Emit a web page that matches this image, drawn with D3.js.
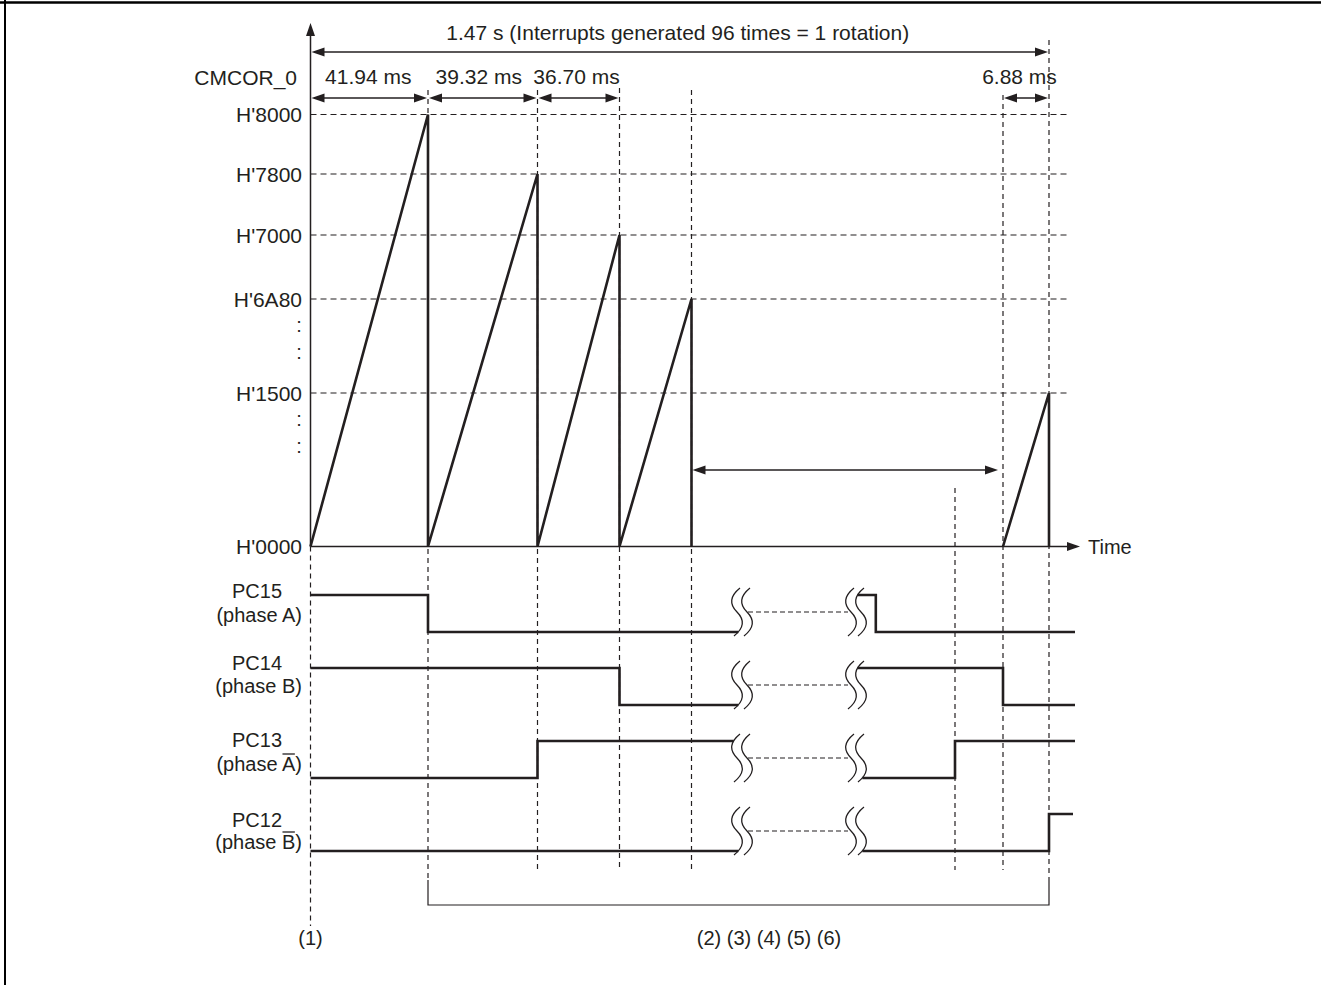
<!DOCTYPE html>
<html><head><meta charset="utf-8">
<script src="https://cdn.jsdelivr.net/npm/d3@7"></script>
<style>
body{margin:0;background:#fff}
text{font-family:"Liberation Sans",Arial,Helvetica,sans-serif;fill:#231f20}
</style>
</head><body>
<svg id="c" width="1321" height="985"></svg>
<script>
// ---------------- data ----------------
const levelLabels = ["H'0000","H'1500","H'6A80","H'7000","H'7800","H'8000"];
const levelValues = [0x0000, 0x1500, 0x6A80, 0x7000, 0x7800, 0x8000];
// interrupt / event times (ms)
const eventTimes = [0, 41.94, 81.26, 117.96, 152.04, 1456.24, 1463.12, 1470];
// compare-match ramps
const rampStart = [0, 41.94, 81.26, 117.96, 1463.12];
const rampEnd   = [41.94, 81.26, 117.96, 152.04, 1470];
const rampPeak  = [0x8000, 0x7800, 0x7000, 0x6A80, 0x1500];
// interval annotations
const intervalLabels = ["41.94 ms", "39.32 ms", "36.70 ms", "6.88 ms"];
const intervalFrom = [0, 41.94, 81.26, 1463.12];
const intervalTo   = [41.94, 81.26, 117.96, 1470];
const totalLabel = "1.47 s (Interrupts generated 96 times = 1 rotation)";
const totalFrom = 0, totalTo = 1470;
const gapFrom = 152.04, gapTo = 1463.12;
// time axis break
const breakStart = 200, breakEnd = 1400, endTime = 1474;
// output signals
const signalNames  = ["PC15", "PC14", "PC13", "PC12"];
const signalPhase  = ["A", "B", "A", "B"];
const signalBar    = [false, false, true, true];
const preSteps  = [[[0,1],[41.94,0]], [[0,1],[117.96,0]], [[0,0],[81.26,1]], [[0,0]]];
const postSteps = [[[1400,1],[1415,0]], [[1400,1],[1463.12,0]], [[1400,0],[1456.24,1]], [[1400,0],[1470,1]]];
const stepLabels = ["(1)", "(2) (3) (4) (5) (6)"];

// ---------------- layout ----------------
const ink = "#231f20";
const svg = d3.select("#c");
const xKnots = [0, 41.94, 81.26, 117.96, 152.04, breakStart, breakEnd, 1456.24, 1463.12, 1470, endTime];
const xPix   = [310.5, 428, 537.5, 619.5, 691.5, 733, 847, 955, 1003, 1049, 1075];
const x = d3.scaleLinear().domain(xKnots).range(xPix);
const y = d3.scaleLinear().domain(levelValues).range([546.5, 393, 299, 235, 174, 114.5]);
const row = d3.scaleLinear().domain([0, 3]).range([595, 814]); // high level of each signal
const amp = 37;
const FS = 21;
const nameY = [598, 670, 747, 827];
const phaseY = [622, 693, 771, 849];

// frame
svg.append("line").attr("x1",0).attr("x2",1321).attr("y1",2.5).attr("y2",2.5).attr("stroke","#000").attr("stroke-width",2.5);
svg.append("line").attr("x1",5).attr("x2",5).attr("y1",0).attr("y2",985).attr("stroke","#000").attr("stroke-width",2);

function arrowHead(g, tx, ty, dir) {
  const L = 13, W = 4.5;
  let pts;
  if (dir === "r") pts = [[tx,ty],[tx-L,ty-W],[tx-L,ty+W]];
  if (dir === "l") pts = [[tx,ty],[tx+L,ty-W],[tx+L,ty+W]];
  if (dir === "u") pts = [[tx,ty],[tx-W,ty+L],[tx+W,ty+L]];
  g.append("path").attr("d", "M" + pts.map(p => p.join(",")).join("L") + "Z").attr("fill", ink);
}
function dblArrow(g, x1, x2, yy) {
  g.append("line").attr("x1",x1+4).attr("x2",x2-4).attr("y1",yy).attr("y2",yy).attr("stroke",ink).attr("stroke-width",1.5);
  arrowHead(g, x1+1, yy, "l");
  arrowHead(g, x2-1, yy, "r");
}

const gGrid = svg.append("g");
// horizontal dashed grid lines
levelValues.slice(1).forEach(v => {
  gGrid.append("line").attr("x1", x(0)).attr("x2", 1070).attr("y1", y(v)).attr("y2", y(v))
    .attr("stroke", ink).attr("stroke-width", 1.2).attr("stroke-dasharray", "6,4");
});

// vertical dashed lines
const topArrowY = 52, subArrowY = 98, gapArrowY = 470;
const bracketY = 905;
const vDefs = eventTimes.map(t => {
  let y1 = 90, y2 = 870;
  if (t === 0) { y1 = y(0); y2 = 926; }
  if (t === 1456.24) y1 = gapArrowY + 18;
  if (t === 1463.12) y1 = 95;
  if (t === 1470) { y1 = 40; y2 = 880; }
  if (t === 41.94) y2 = 880;
  if (t === 117.96) y1 = 88;
  return {t, y1, y2};
});
vDefs.forEach(d => {
  gGrid.append("line").attr("x1", x(d.t)).attr("x2", x(d.t)).attr("y1", d.y1).attr("y2", d.y2)
    .attr("stroke", ink).attr("stroke-width", 1.2).attr("stroke-dasharray", "5,4");
});

// y axis + x axis
const gAx = svg.append("g");
gAx.append("line").attr("x1", x(0)).attr("x2", x(0)).attr("y1", y(0)).attr("y2", 30).attr("stroke", ink).attr("stroke-width", 1.5);
arrowHead(gAx, x(0), 23, "u");
gAx.append("line").attr("x1", x(0)).attr("x2", 1072).attr("y1", y(0)).attr("y2", y(0)).attr("stroke", ink).attr("stroke-width", 1.5);
arrowHead(gAx, 1080, y(0), "r");
gAx.append("text").attr("x", 1088).attr("y", y(0) + 7).attr("font-size", FS - 1).text("Time");

// y tick labels
levelValues.forEach((v, i) => {
  gAx.append("text").attr("x", 302).attr("y", y(v) + 7.5).attr("text-anchor", "end").attr("font-size", FS).text(levelLabels[i]);
});
// axis-break dots
[y(0x6A80), y(0x1500)].forEach(a => {
  [a + 27, a + 54].forEach(yy => {
    gAx.append("text").attr("x", 299).attr("y", yy + 6).attr("text-anchor", "middle").attr("font-size", FS - 1).text(":");
  });
});
gAx.append("text").attr("x", 297).attr("y", 85).attr("text-anchor", "end").attr("font-size", FS).text("CMCOR_0");

// sawtooth
const saw = d3.path();
rampStart.forEach((s, i) => {
  saw.moveTo(x(s), y(0));
  saw.lineTo(x(rampEnd[i]), y(rampPeak[i]));
  saw.lineTo(x(rampEnd[i]), y(0));
});
svg.append("path").attr("d", saw.toString()).attr("fill", "none").attr("stroke", ink).attr("stroke-width", 2.6).attr("stroke-linejoin", "miter");

// annotations
const gAn = svg.append("g");
dblArrow(gAn, x(totalFrom), x(totalTo), topArrowY);
gAn.append("text").attr("x", (x(totalFrom) + x(totalTo)) / 2 - 2).attr("y", 40).attr("text-anchor", "middle").attr("font-size", FS).text(totalLabel);
const labShift = [-1, -4, -2, -6.5];
intervalLabels.forEach((lab, i) => {
  dblArrow(gAn, x(intervalFrom[i]), x(intervalTo[i]), subArrowY);
  const cx = (x(intervalFrom[i]) + x(intervalTo[i])) / 2;
  gAn.append("text").attr("x", cx + labShift[i]).attr("y", 84).attr("text-anchor", "middle").attr("font-size", FS).text(lab);
});
dblArrow(gAn, x(gapFrom), x(gapTo) - 4, gapArrowY);

// signals
const gSig = svg.append("g");
function wave(g, wx, top, bot) {
  const h = bot - top, mid = top + h / 2;
  g.append("path").attr("d", `M${wx+7},${top}Q${wx-8},${top+h/4} ${wx+4},${mid}Q${wx+16},${top+3*h/4} ${wx+1},${bot}`)
    .attr("fill", "none").attr("stroke", ink).attr("stroke-width", 1.3);
}
signalNames.forEach((name, i) => {
  const hi = row(i), lo = hi + amp;
  const lv = l => l ? hi : lo;
  const xb1 = x(breakStart), xb2 = x(breakEnd);
  // pre-break
  const pre = preSteps[i];
  let p = d3.path();
  pre.forEach((s, k) => {
    const xs = x(s[0]);
    if (k === 0) p.moveTo(xs, lv(s[1])); else { p.lineTo(xs, lv(pre[k-1][1])); p.lineTo(xs, lv(s[1])); }
  });
  const lastPre = pre[pre.length - 1][1];
  p.lineTo(xb1 + (lastPre ? 0.6 : 5.3), lv(lastPre));
  // post-break
  const post = postSteps[i];
  post.forEach((s, k) => {
    const xs = k === 0 ? xb2 + 10 + (s[1] ? 0.6 : 5.3) : x(s[0]);
    if (k === 0) p.moveTo(xs, lv(s[1])); else { p.lineTo(xs, lv(post[k-1][1])); p.lineTo(xs, lv(s[1])); }
  });
  p.lineTo(i === 3 ? 1073 : 1075, lv(post[post.length - 1][1]));
  gSig.append("path").attr("d", p.toString()).attr("fill", "none").attr("stroke", ink).attr("stroke-width", 2.6);
  // break symbols
  const top = hi - 7, bot = lo + 4;
  wave(gSig, xb1, top, bot); wave(gSig, xb1 + 10, top, bot);
  wave(gSig, xb2, top, bot); wave(gSig, xb2 + 10, top, bot);
  const mid = (top + bot) / 2;
  gSig.append("line").attr("x1", xb1 + 15).attr("x2", xb2 + 1).attr("y1", mid).attr("y2", mid)
    .attr("stroke", ink).attr("stroke-width", 1.1).attr("stroke-dasharray", "5,3");
  // labels
  gSig.append("text").attr("x", 257).attr("y", nameY[i]).attr("text-anchor", "middle").attr("font-size", FS - 1).text(name);
  const t = gSig.append("text").attr("x", 302).attr("y", phaseY[i]).attr("text-anchor", "end").attr("font-size", FS - 1)
    .text("(phase " + signalPhase[i] + ")");
  if (signalBar[i]) {
    const e = t.node().getExtentOfChar(7);
    gSig.append("line").attr("x1", e.x + 0.5).attr("x2", e.x + e.width - 0.5).attr("y1", phaseY[i] - 17).attr("y2", phaseY[i] - 17)
      .attr("stroke", ink).attr("stroke-width", 1.3);
  }
});

// bracket + step labels
const gB = svg.append("g");
gB.append("path").attr("d", `M${x(41.94)},880V${bracketY}H${x(1470)}V880`).attr("fill", "none").attr("stroke", ink).attr("stroke-width", 1.2);
gB.append("text").attr("x", x(0)).attr("y", 945).attr("text-anchor", "middle").attr("font-size", FS - 1).text(stepLabels[0]);
gB.append("text").attr("x", 769).attr("y", 945).attr("text-anchor", "middle").attr("font-size", FS - 1).text(stepLabels[1]);
</script>
</body></html>
